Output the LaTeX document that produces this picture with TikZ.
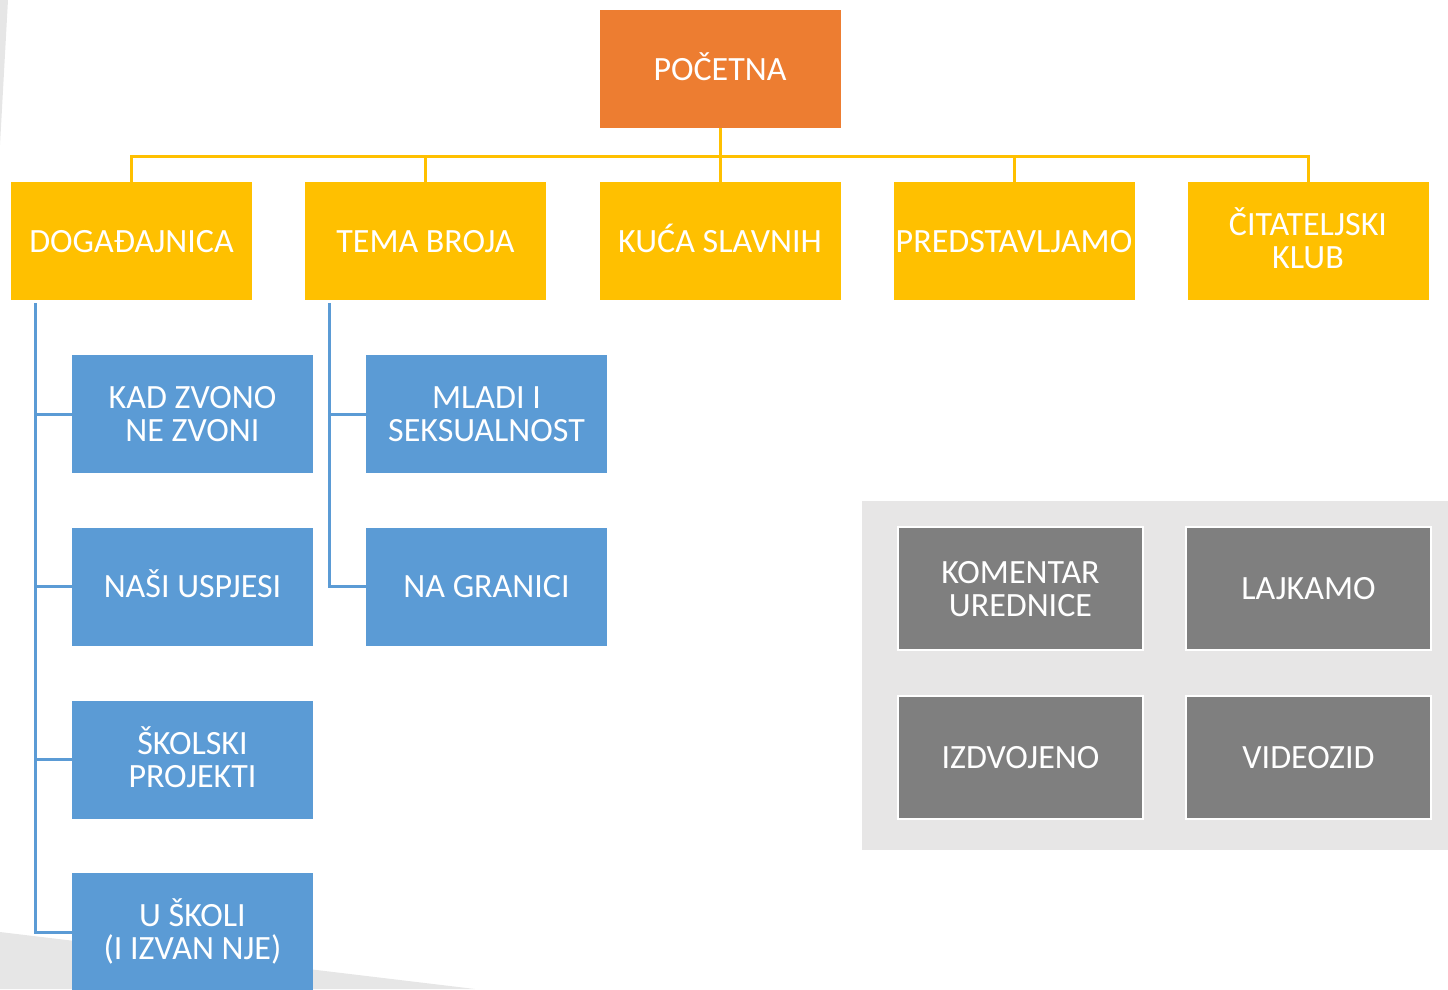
\documentclass[tikz,border=0pt]{standalone}
\usepackage{fontspec}
\setmainfont{Carlito}
\definecolor{orng}{HTML}{ED7D31}
\definecolor{yel}{HTML}{FFC000}
\definecolor{blu}{HTML}{5B9BD5}
\definecolor{gry}{HTML}{7F7F7F}
\definecolor{panelc}{HTML}{E7E6E6}
\definecolor{bgg}{HTML}{E6E6E6}
\tikzset{
  box/.style={rectangle, minimum width=241pt, minimum height=118pt, inner sep=0pt,
    text=white, align=center, font=\fontsize{34}{33}\selectfont,
    text height=22pt, text depth=0pt},
  two/.style={text height=55pt, text depth=0pt},
  topbox/.style={box, fill=orng},
  ybox/.style={box, fill=yel},
  bbox/.style={box, fill=blu},
  gbox/.style={box, fill=gry, draw=white, line width=1.5pt, minimum width=245pt, minimum height=123pt},
  yline/.style={draw=yel, line width=3pt},
  bline/.style={draw=blu, line width=3pt},
}
\begin{document}
\begin{tikzpicture}[x=1pt,y=-1pt]
\useasboundingbox (0,0) rectangle (1448,989);
\fill[bgg] (0,0) -- (8,0) -- (0,145) -- cycle;
\fill[bgg] (0,932) -- (475,989) -- (0,989) -- cycle;
\fill[panelc] (862,501) rectangle (1448,850);

\node[topbox] (poc) at (720,69) {POČETNA};
\node[ybox] (dog) at (131.5,241) {DOGAĐAJNICA};
\node[ybox] (tema) at (425.5,241) {TEMA BROJA};
\node[ybox] (kuca) at (720,241) {KUĆA SLAVNIH};
\node[ybox] (pred) at (1014,241) {PREDSTAVLJAMO};
\node[ybox, two] (cit) at (1308,241) {ČITATELJSKI\\KLUB};

\coordinate (bus) at (720,156);
\draw[yline] (poc.south) -- (kuca.north);
\draw[yline] (dog.north) |- (bus);
\draw[yline] (tema.north) |- (bus);
\draw[yline] (pred.north) |- (bus);
\draw[yline] (cit.north) |- (bus);

\node[bbox, two] (s1) at (192.5,414) {KAD ZVONO\\ NE ZVONI};
\node[bbox] (s2) at (192.5,586.5) {NAŠI USPJESI};
\node[bbox, two] (s3) at (192.5,759.5) {ŠKOLSKI\\PROJEKTI};
\node[bbox, two] (s4) at (192.5,932) {U ŠKOLI\\(I IZVAN NJE)};
\node[bbox, two] (t1) at (486.5,414) {MLADI I\\SEKSUALNOST};
\node[bbox] (t2) at (486.5,586.5) {NA GRANICI};

\coordinate (d0) at (35,303);
\coordinate (e0) at (329,303);
\draw[bline] (d0) |- (s1.west);
\draw[bline] (d0) |- (s2.west);
\draw[bline] (d0) |- (s3.west);
\draw[bline] (d0) |- (s4.west);
\draw[bline] (e0) |- (t1.west);
\draw[bline] (e0) |- (t2.west);

\node[gbox, two] (g1) at (1020.5,588.5) {KOMENTAR\\UREDNICE};
\node[gbox] (g2) at (1308.5,588.5) {LAJKAMO};
\node[gbox] (g3) at (1020.5,757.5) {IZDVOJENO};
\node[gbox] (g4) at (1308.5,757.5) {VIDEOZID};
\end{tikzpicture}
\end{document}
